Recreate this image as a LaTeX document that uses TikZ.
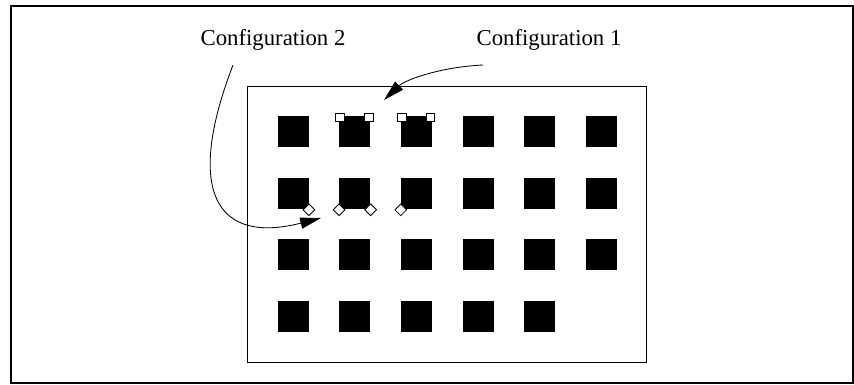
\documentclass[tikz,border=0pt]{standalone}
\usepackage{fontspec}
\setmainfont{Liberation Serif}
\usetikzlibrary{arrows.meta,shapes.geometric}

\tikzset{
  pad/.style={fill=black, inner sep=0pt, minimum size=0.775cm},
  sqpin/.style={draw, fill=white, line width=0.6pt, inner sep=0pt, minimum size=0.21cm},
  dpin/.style={diamond, draw, fill=white, line width=0.6pt, inner sep=0pt, minimum size=0.3cm},
  lbl/.style={anchor=base, inner sep=0pt, font=\fontsize{16.2}{19}\selectfont},
  ptr/.style={line width=0.6pt, -{Triangle[length=5.2mm,width=2.8mm]}}
}

\begin{document}
\begin{tikzpicture}[x=0.025cm, y=-0.025cm]
  \useasboundingbox (0,0) rectangle (854,384);
  \draw[line width=1.4pt] (11,6) rectangle (853,383);
  \draw[line width=0.6pt] (247,86) rectangle (646,362);
  % pads, the last row is one short
  \foreach \r/\n in {1/6,2/6,3/6,4/5}
    \foreach \c in {1,...,\n}
      \node[pad] (p\r\c) at ({231.5+61.67*\c}, {70+61.5*\r}) {};
  % configuration 1: pins on the top corners
  \foreach \p in {p12,p13}{
    \node[sqpin] at ([shift={(1,1.7)}]\p.north west) {};
    \node[sqpin] at ([shift={(-1.7,1.7)}]\p.north east) {};
  }
  % configuration 2: pins on the bottom corners
  \node[dpin] at ([shift={(0,1)}]p21.south east) {};
  \node[dpin] at ([shift={(0,1)}]p22.south west) {};
  \node[dpin] at ([shift={(0,1)}]p22.south east) {};
  \node[dpin] at ([shift={(0,1)}]p23.south west) {};
  \node[lbl] (cfg2) at (273,45) {Configuration 2};
  \node[lbl] (cfg1) at (549,45) {Configuration 1};
  \coordinate (c1s) at (483,65);
  \coordinate (c1e) at (384,100);
  \coordinate (c2s) at (233,65);
  \coordinate (c2e) at (321,218);
  \draw[ptr] (c1s) .. controls (440,67) and (405,80) .. (c1e);
  \draw[ptr] (c2s) .. controls (185,190) and (215,245) .. (c2e);
\end{tikzpicture}
\end{document}
